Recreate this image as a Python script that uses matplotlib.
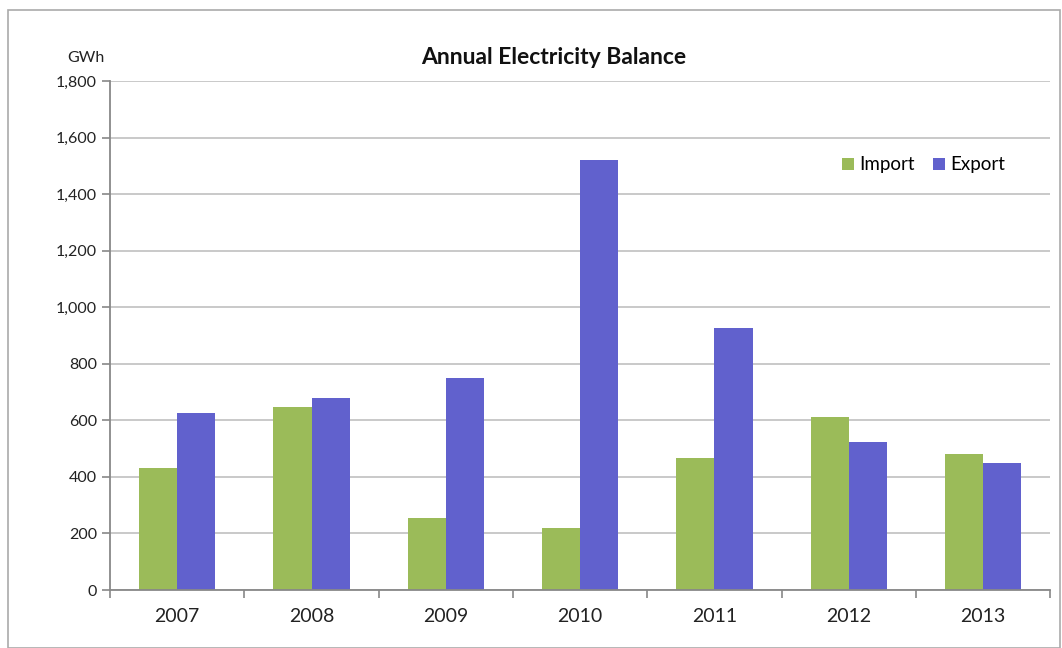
import matplotlib.pyplot as plt
import matplotlib.ticker as mticker
import numpy as np

plt.rcParams['font.family'] = ['Lato', 'DejaVu Sans']

years = ['2007', '2008', '2009', '2010', '2011', '2012', '2013']
imports = [430, 647, 255, 220, 466, 612, 480]
exports = [625, 679, 748, 1520, 928, 523, 450]

green = '#9bbb59'
blue = '#6161cd'

fig = plt.figure(figsize=(10.62, 6.48), dpi=100)
ax = fig.add_axes([0.1036, 0.0895, 0.8854, 0.7855])

x = np.arange(len(years))
w = 0.285
ax.bar(x - w / 2, imports, w, color=green, label='Import')
ax.bar(x + w / 2, exports, w, color=blue, label='Export')

ax.set_xlim(-0.5, 6.5)
ax.set_ylim(0, 1800)
ax.set_yticks(range(0, 1801, 200))
ax.yaxis.set_major_formatter(mticker.StrMethodFormatter('{x:,.0f}'))
ax.set_xticks(x)
ax.set_xticklabels(years)
ax.set_xticks(np.arange(-0.5, 6.6, 1), minor=True)
ax.tick_params(axis='x', which='major', length=0, labelsize=14, pad=13, colors='#222222')
ax.tick_params(axis='x', which='minor', length=6, color='#888888', width=1.2)
ax.tick_params(axis='y', length=6, color='#888888', width=1.2, labelsize=11.5,
               labelcolor='#222222')

ax.grid(axis='y', color='#c0c0c0', linewidth=1.2)
ax.set_axisbelow(True)
for s in ['top', 'right']:
    ax.spines[s].set_visible(False)
for s in ['left', 'bottom']:
    ax.spines[s].set_color('#888888')
    ax.spines[s].set_linewidth(1.3)

ax.legend(loc='upper right', bbox_to_anchor=(0.97, 0.885), ncol=2, frameon=False,
          fontsize=13.5, handlelength=0.6, handleheight=0.6, handletextpad=0.3,
          columnspacing=1.0)

fig.text(0.521, 0.912, 'Annual Electricity Balance', ha='center', va='center',
         fontsize=16.5, fontweight='bold', color='#111111')
fig.text(0.063, 0.91, 'GWh', ha='left', va='center', fontsize=11.5, color='#222222')

fig.patches.append(plt.Rectangle((0.008, 0.0), 0.99, 0.985, transform=fig.transFigure,
                                 fill=False, edgecolor='#aaaaaa', linewidth=1.2))

fig.savefig('out.png', dpi=100)
